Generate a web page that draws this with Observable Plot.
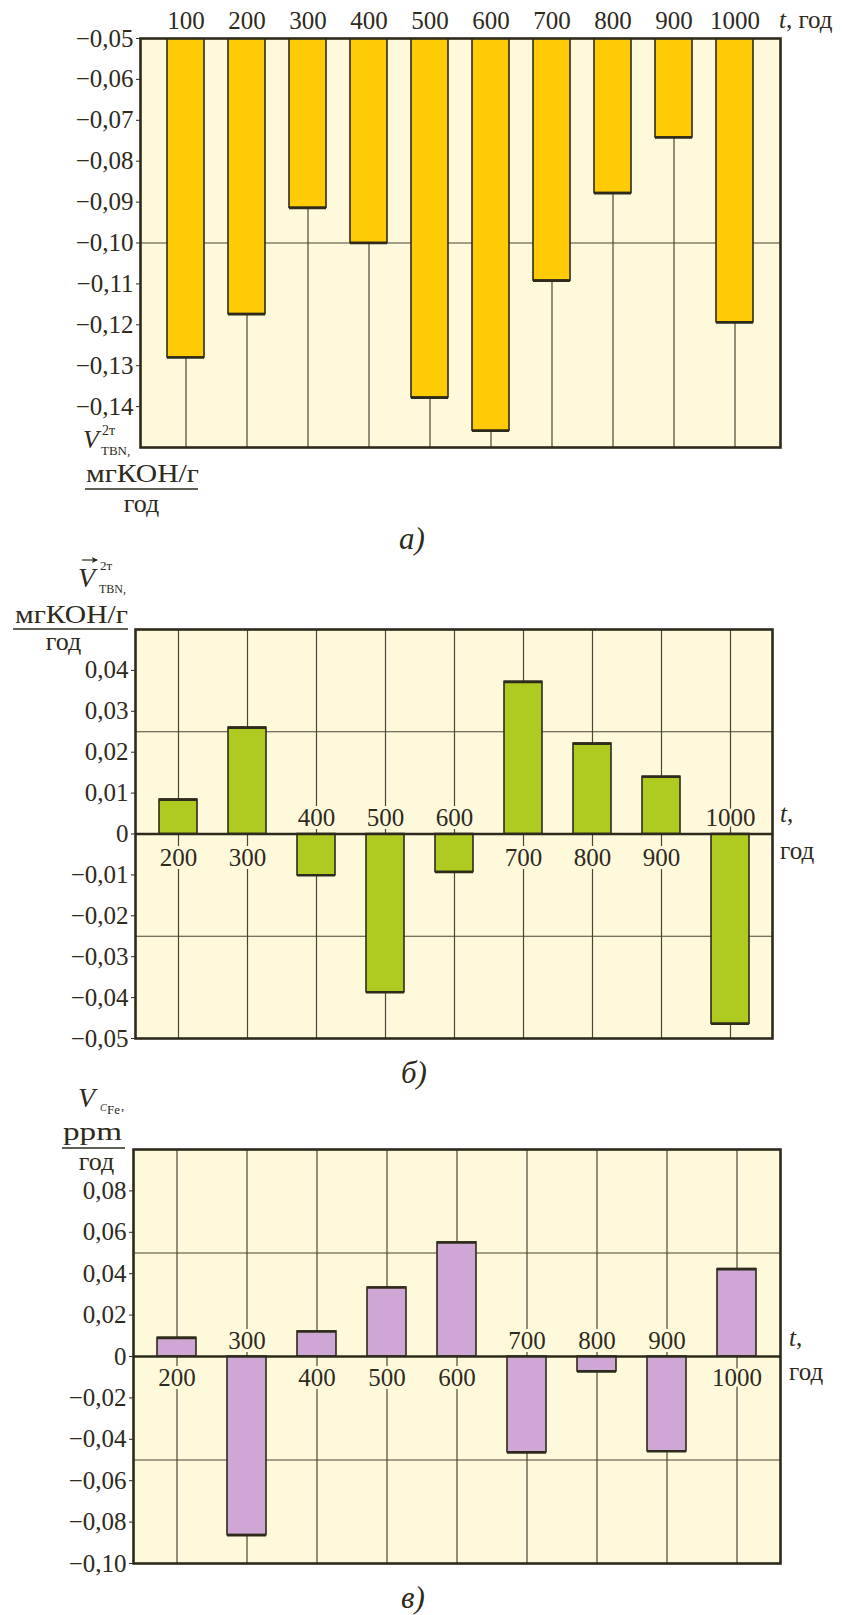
<!DOCTYPE html>
<html>
<head>
<meta charset="utf-8">
<script src="https://cdn.jsdelivr.net/npm/d3@7"></script>
<script src="https://cdn.jsdelivr.net/npm/@observablehq/plot@0.6"></script>
<style>
  body { margin: 0; background: #fff; }
  #page { position: relative; width: 842px; height: 1615px; overflow: hidden; }
  .panel { position: absolute; left: 0; }
  #notes { position: absolute; left: 0; top: 0; pointer-events: none; }
</style>
</head>
<body>
<div id="page"></div>
<script>
// --- data -------------------------------------------------------------
// а) rate of TBN change over two-stroke service, мгКОН/г per год
const yearsA = [100, 200, 300, 400, 500, 600, 700, 800, 900, 1000];
const tbnRate = [-0.128, -0.1174, -0.0914, -0.100, -0.1378, -0.1459, -0.1092, -0.0878, -0.0742, -0.1194];
const ticksA = [-0.05, -0.06, -0.07, -0.08, -0.09, -0.10, -0.11, -0.12, -0.13, -0.14];
const gridA = [-0.10];

// б) vector rate of TBN change
const yearsB = [200, 300, 400, 500, 600, 700, 800, 900, 1000];
const tbnVectorRate = [0.0084, 0.026, -0.0101, -0.0387, -0.0093, 0.0372, 0.0221, 0.014, -0.0464];
const ticksB = [0.04, 0.03, 0.02, 0.01, 0, -0.01, -0.02, -0.03, -0.04, -0.05];
const gridB = [0.025, -0.025];

// в) rate of iron concentration change, ppm per год
const yearsC = [200, 300, 400, 500, 600, 700, 800, 900, 1000];
const feRate = [0.009, -0.0863, 0.0121, 0.0333, 0.0551, -0.0463, -0.0072, -0.0458, 0.0422];
const ticksC = [0.08, 0.06, 0.04, 0.02, 0, -0.02, -0.04, -0.06, -0.08, -0.10];
const gridC = [0.05, -0.05];

// --- style ------------------------------------------------------------
const FONT = "'Liberation Serif', 'Times New Roman', serif";
const cream = "#fff9dc";
const ink = "#2e2a1c";
const gridInk = "#4a4534";

const fmt = v => v === 0 ? "0" : (v < 0 ? "\u2212" : "") + Math.abs(v).toFixed(2).replace(".", ",");

const page = document.getElementById("page");

function panel({years, values, domain, ticks, grid, fill, top, height, margin, padIn, padOut, topAxis, zero, gapBelow, gapAbove}) {
  const rows = years.map((t, i) => ({t, v: values[i]}));
  const marks = [
    Plot.frame({fill: cream}),
    Plot.ruleY(grid, {stroke: gridInk, strokeWidth: 1.2}),
    Plot.ruleX(rows, {x: "t", stroke: gridInk, strokeWidth: 1.2}),
    Plot.barY(rows, {x: "t", y: "v", fill, stroke: ink, strokeWidth: 1.6, clip: true}),
    Plot.tickY(rows, {x: "t", y: "v", stroke: ink, strokeWidth: 2.6})
  ];
  if (zero) {
    marks.push(Plot.ruleY([0], {stroke: ink, strokeWidth: 2.6}));
    const label = {x: "t", y: () => 0, text: d => String(d.t), fontSize: 25,
      fill: ink, stroke: cream, strokeWidth: 6, paintOrder: "stroke"};
    marks.push(Plot.text(rows.filter(d => d.v >= 0), {...label, lineAnchor: "top", dy: gapBelow}));
    marks.push(Plot.text(rows.filter(d => d.v < 0), {...label, lineAnchor: "bottom", dy: -gapAbove}));
  }
  marks.push(Plot.frame({stroke: ink, strokeWidth: 2.6}));
  marks.push(Plot.axisY({ticks, tickFormat: fmt, tickSize: 4, tickPadding: 3, label: null, fontSize: 25, stroke: ink}));
  if (topAxis) marks.push(Plot.axisX({anchor: "top", tickSize: 0, tickPadding: 10, label: null, fontSize: 25,
    tickFormat: d => String(d)}));

  const svg = Plot.plot({
    width: 842,
    height,
    marginTop: margin[0], marginRight: margin[1], marginBottom: margin[2], marginLeft: margin[3],
    style: {fontFamily: FONT, fontSize: "25px", color: ink, background: "transparent", overflow: "visible"},
    x: {type: "band", domain: years, paddingInner: padIn, paddingOuter: padOut, axis: topAxis ? undefined : null},
    y: {domain},
    marks
  });
  svg.classList.add("panel");
  svg.style.top = top + "px";
  page.appendChild(svg);
}

panel({years: yearsA, values: tbnRate, domain: [-0.15, -0.05], ticks: ticksA, grid: gridA,
  fill: "#ffcb05", top: 0, height: 460, margin: [38, 62, 13, 140], padIn: 0.39, padOut: 0.36, topAxis: true});

panel({years: yearsB, values: tbnVectorRate, domain: [-0.05, 0.05], ticks: ticksB, grid: gridB,
  fill: "#afcb21", top: 600, height: 451, margin: [29, 70, 13, 135], padIn: 0.456, padOut: 0.325,
  zero: true, gapBelow: 14, gapAbove: 8});

panel({years: yearsC, values: feRate, domain: [-0.10, 0.10], ticks: ticksC, grid: gridC,
  fill: "#cfa7d4", top: 1120, height: 456, margin: [29, 62, 13, 133], padIn: 0.45, padOut: 0.32,
  zero: true, gapBelow: 12, gapAbove: 8});

// --- axis titles, units and panel captions ------------------------------
const notes = d3.select(page).append("svg").attr("id", "notes")
  .attr("width", 842).attr("height", 1615)
  .style("font-family", FONT).style("fill", ink);

function txt(x, y, s, size, {italic = false, anchor = "start", len = null} = {}) {
  const t = notes.append("text").attr("x", x).attr("y", y)
    .attr("font-size", size).attr("text-anchor", anchor).text(s);
  if (italic) t.attr("font-style", "italic");
  if (len) t.attr("textLength", len).attr("lengthAdjust", "spacingAndGlyphs");
  return t;
}
function bar(x1, x2, y) {
  notes.append("line").attr("x1", x1).attr("x2", x2).attr("y1", y).attr("y2", y)
    .attr("stroke", ink).attr("stroke-width", 1.5);
}
function tLabel(x, y, size, tail) {
  const t = notes.append("text").attr("x", x).attr("y", y).attr("font-size", size);
  t.append("tspan").attr("font-style", "italic").text("t");
  t.append("tspan").text(tail);
}

// а)
txt(83, 448, "V", 26, {italic: true});
txt(102, 435, "2т", 14);
txt(101, 455, "TBN,", 13);
txt(86, 482, "мгКОН/г", 26, {len: 113});
bar(85, 198, 489);
txt(141.5, 512, "год", 26, {anchor: "middle"});
tLabel(779, 28, 25, ", год");
txt(399, 549, "а)", 31, {italic: true});

// б)
notes.append("line").attr("x1", 82).attr("x2", 97).attr("y1", 560).attr("y2", 560)
  .attr("stroke", ink).attr("stroke-width", 1.2);
notes.append("path").attr("d", "M98,560 L92,557 L93,560 L92,563 Z").attr("fill", ink);
txt(78, 587, "V", 28, {italic: true});
txt(100, 570, "2т", 13);
txt(99, 593, "TBN,", 12);
txt(15, 623, "мгКОН/г", 26, {len: 113});
bar(13, 128, 629);
txt(63.5, 650, "год", 26, {anchor: "middle"});
tLabel(780, 822, 25, ",");
txt(780, 859, "год", 25);
txt(401, 1083, "б)", 31, {italic: true});

// в)
txt(78, 1107, "V", 28, {italic: true});
txt(100, 1111, "C", 10, {italic: true});
txt(107, 1114, "Fe", 13);
txt(121, 1110, ",", 13);
txt(63, 1140, "ppm", 26, {len: 59});
bar(62, 125, 1148);
txt(96.5, 1170, "год", 26, {anchor: "middle"});
tLabel(789, 1346, 25, ",");
txt(789, 1380, "год", 25);
txt(401, 1608, "в)", 31, {italic: true});
</script>
</body>
</html>
